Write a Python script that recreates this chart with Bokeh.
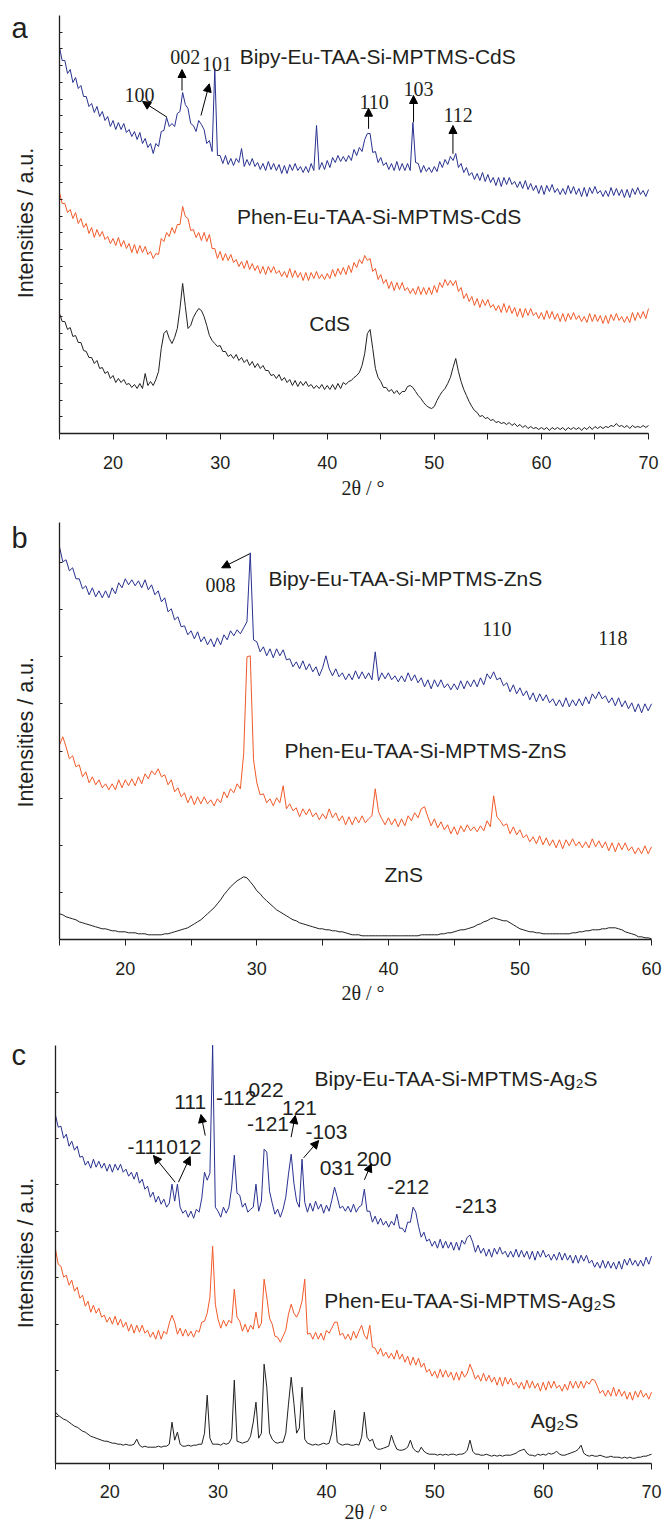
import math
import numpy as np
from bokeh.plotting import figure
from bokeh.layouts import column
from bokeh.models import Label, Arrow, NormalHead, FixedTicker, Range1d, CustomJSTickFormatter
from bokeh.embed import file_html
from bokeh.resources import INLINE

BLUE = "#28318f"
ORANGE = "#f15a29"
BLACK = "#231f20"
TEXT = "#231f20"
SANS = "Liberation Sans"
SERIF = "Liberation Serif"

# ---------------- 2-theta sampling (degrees) ----------------
two_theta_ac = np.round(np.arange(15.0, 70.001, 0.25), 2)   # panels a and c
two_theta_b = np.round(np.arange(15.0, 60.001, 0.25), 2)    # panel b

# ---------------- panel a : CdS (intensities, a.u.) ----------------
bipy_cds = [
    386, 373, 373, 360, 364, 351, 356, 345, 348, 337, 337, 327, 330, 321, 327, 317,
    322, 313, 317, 307, 313, 304, 311, 304, 310, 301, 304, 297, 302, 294, 301, 290,
    295, 286, 290, 280, 290, 287, 302, 303, 316, 307, 310, 307, 320, 322, 341, 329,
    325, 310, 308, 302, 313, 309, 304, 290, 293, 282, 365, 278, 278, 270, 278, 269,
    275, 268, 275, 271, 285, 267, 274, 268, 275, 267, 271, 264, 270, 263, 272, 264,
    270, 263, 269, 260, 268, 260, 269, 263, 270, 263, 267, 261, 267, 261, 270, 263,
    308, 264, 271, 264, 273, 266, 276, 271, 278, 272, 277, 272, 278, 273, 284, 278,
    286, 282, 294, 300, 300, 281, 282, 271, 276, 268, 271, 264, 270, 263, 272, 263,
    270, 263, 270, 263, 311, 271, 270, 261, 268, 262, 266, 261, 267, 262, 272, 266,
    274, 269, 277, 273, 280, 266, 270, 261, 266, 258, 261, 254, 260, 253, 261, 252,
    259, 251, 256, 248, 256, 247, 256, 249, 256, 249, 252, 246, 252, 245, 253, 244,
    250, 243, 248, 240, 248, 239, 248, 242, 249, 241, 245, 239, 245, 239, 248, 240,
    247, 239, 245, 237, 246, 237, 246, 240, 247, 240, 243, 237, 243, 237, 246, 238,
    245, 238, 244, 236, 244, 236, 245, 239, 246, 239, 243, 237, 244,
]
phen_cds = [
    241, 230, 230, 221, 224, 215, 221, 210, 215, 206, 210, 200, 206, 196, 204, 197,
    202, 194, 197, 190, 195, 188, 196, 187, 193, 185, 190, 181, 189, 180, 188, 181,
    187, 179, 182, 175, 180, 179, 195, 192, 201, 197, 206, 200, 209, 209, 227, 217,
    215, 203, 204, 196, 201, 193, 201, 192, 199, 185, 185, 175, 182, 173, 180, 173,
    179, 171, 174, 167, 172, 165, 173, 164, 170, 163, 168, 160, 167, 159, 167, 161,
    167, 160, 163, 157, 162, 156, 165, 156, 163, 156, 161, 153, 161, 153, 161, 155,
    162, 155, 159, 154, 160, 155, 164, 157, 165, 159, 166, 159, 168, 161, 171, 166,
    174, 170, 178, 173, 175, 162, 165, 154, 159, 150, 154, 145, 152, 143, 151, 144,
    151, 143, 146, 140, 145, 139, 147, 139, 146, 139, 146, 139, 148, 141, 151, 146,
    154, 148, 153, 148, 153, 142, 146, 135, 140, 132, 137, 128, 135, 126, 134, 128,
    134, 126, 129, 123, 128, 121, 130, 121, 128, 120, 126, 117, 125, 116, 125, 118,
    125, 118, 121, 115, 121, 114, 123, 115, 122, 114, 120, 112, 120, 112, 120, 114,
    121, 114, 118, 112, 117, 111, 120, 112, 119, 112, 118, 110, 118, 110, 119, 113,
    120, 113, 117, 111, 117, 111, 121, 113, 121, 115, 122, 115, 125,
]
cds = [
    120, 112, 112, 104, 106, 97, 98, 91, 91, 83, 82, 76, 76, 70, 73, 65,
    66, 60, 62, 55, 58, 51, 55, 51, 54, 49, 50, 46, 49, 45, 50, 45,
    60, 48, 52, 48, 54, 62, 85, 100, 103, 95, 90, 96, 105, 125, 150, 127,
    105, 108, 116, 121, 125, 123, 117, 108, 98, 93, 90, 87, 88, 82, 82, 77,
    79, 75, 79, 73, 76, 71, 74, 68, 72, 66, 70, 65, 68, 63, 63, 58,
    59, 55, 59, 53, 56, 51, 54, 48, 53, 47, 52, 48, 52, 47, 49, 45,
    48, 45, 49, 44, 48, 44, 49, 44, 50, 45, 51, 49, 52, 53, 56, 58,
    61, 68, 80, 100, 104, 85, 65, 56, 52, 46, 46, 42, 44, 40, 43, 39,
    42, 42, 47, 48, 46, 42, 38, 35, 31, 28, 26, 25, 27, 33, 38, 42,
    45, 50, 56, 66, 75, 62, 52, 44, 38, 32, 27, 23, 21, 17, 18, 15,
    16, 13, 14, 11, 12, 10, 11, 9, 11, 8, 10, 7, 9, 6, 8, 5,
    7, 5, 6, 4, 6, 4, 6, 3, 6, 4, 6, 4, 6, 3, 6, 4,
    6, 4, 6, 3, 6, 4, 7, 4, 7, 5, 7, 5, 7, 6, 8, 7,
    10, 7, 8, 6, 8, 5, 8, 6, 7, 6, 8, 6, 8,
]

# ---------------- panel b : ZnS ----------------
bipy_zns = [
    393, 378, 380, 369, 372, 361, 361, 351, 354, 345, 352, 343, 349, 342, 349, 342,
    352, 346, 357, 352, 361, 355, 360, 354, 359, 352, 360, 350, 355, 345, 349, 338,
    342, 328, 331, 320, 323, 313, 314, 305, 309, 301, 308, 298, 303, 295, 301, 293,
    302, 295, 305, 300, 309, 304, 310, 306, 312, 318, 387, 300, 298, 288, 293, 284,
    291, 282, 291, 284, 290, 280, 281, 273, 278, 271, 279, 270, 276, 268, 273, 264,
    272, 284, 271, 264, 271, 263, 267, 260, 266, 260, 269, 261, 268, 261, 267, 260,
    288, 259, 267, 261, 267, 260, 264, 258, 264, 258, 267, 259, 265, 257, 262, 253,
    260, 251, 260, 253, 260, 252, 256, 250, 256, 250, 259, 251, 259, 253, 260, 253,
    262, 255, 266, 261, 268, 260, 262, 254, 257, 248, 255, 246, 252, 244, 249, 240,
    247, 238, 246, 239, 245, 237, 241, 234, 240, 233, 242, 233, 240, 234, 241, 234,
    243, 236, 246, 241, 248, 241, 244, 237, 242, 234, 242, 233, 239, 231, 237, 228,
    236, 227, 236, 229, 236,
]
phen_zns = [
    195, 203, 193, 181, 184, 173, 175, 163, 168, 157, 163, 155, 160, 152, 156, 150,
    156, 150, 160, 152, 160, 154, 161, 154, 163, 156, 166, 161, 169, 165, 171, 163,
    165, 155, 160, 148, 152, 143, 147, 137, 144, 135, 143, 136, 143, 136, 140, 134,
    141, 137, 148, 142, 151, 147, 156, 151, 186, 283, 284, 180, 157, 145, 146, 137,
    141, 134, 142, 137, 154, 131, 136, 129, 132, 123, 131, 125, 131, 123, 127, 120,
    126, 121, 131, 122, 127, 119, 124, 115, 123, 115, 123, 117, 124, 117, 121, 124,
    151, 128, 121, 115, 122, 115, 121, 113, 121, 114, 124, 119, 127, 122, 131, 133,
    123, 114, 121, 112, 118, 110, 115, 106, 113, 105, 114, 108, 115, 109, 113, 108,
    114, 109, 119, 113, 144, 123, 119, 114, 116, 106, 113, 105, 110, 102, 105, 98,
    103, 96, 104, 95, 102, 94, 100, 92, 100, 91, 100, 94, 101, 94, 98, 92,
    98, 92, 101, 93, 99, 92, 98, 89, 97, 88, 97, 90, 97, 89, 93, 86,
    92, 86, 94, 86, 93,
]
zns = [
    26, 25, 23, 22, 21, 20, 18, 17, 16, 15, 14, 13, 12, 11, 11, 10,
    9, 9, 8, 8, 8, 7, 7, 7, 6, 6, 6, 5, 5, 5, 5, 5,
    6, 6, 7, 8, 9, 10, 11, 12, 14, 16, 18, 20, 23, 26, 29, 32,
    36, 40, 45, 49, 53, 56, 59, 61, 63, 62, 58, 54, 49, 46, 42, 39,
    36, 33, 30, 28, 26, 24, 22, 20, 19, 17, 16, 15, 14, 13, 12, 11,
    11, 10, 10, 9, 9, 8, 8, 7, 6, 5, 5, 5, 4, 4, 4, 4,
    4, 4, 4, 4, 4, 4, 4, 4, 4, 4, 4, 4, 4, 4, 5, 5,
    5, 5, 5, 5, 6, 6, 7, 7, 8, 9, 10, 10, 11, 12, 13, 15,
    16, 18, 19, 21, 22, 21, 20, 19, 19, 17, 15, 13, 11, 10, 9, 8,
    8, 7, 7, 6, 6, 6, 6, 6, 6, 6, 6, 6, 7, 7, 8, 8,
    9, 9, 10, 10, 10, 11, 11, 12, 12, 12, 11, 10, 8, 7, 6, 5,
    3, 3, 2, 2, 1,
]

# ---------------- panel c : Ag2S ----------------
bipy_ag2s = [
    348, 336, 337, 325, 329, 317, 322, 313, 317, 306, 307, 298, 302, 295, 304, 296,
    302, 295, 300, 292, 299, 291, 299, 293, 299, 291, 294, 287, 291, 284, 291, 280,
    284, 274, 277, 266, 271, 261, 267, 259, 264, 256, 260, 279, 262, 279, 256, 250,
    253, 246, 252, 245, 254, 251, 265, 291, 283, 290, 418, 256, 252, 246, 256, 250,
    256, 275, 308, 270, 268, 256, 260, 251, 254, 256, 279, 252, 262, 314, 311, 272,
    260, 249, 254, 246, 254, 266, 289, 309, 280, 262, 256, 304, 261, 251, 260, 252,
    262, 254, 259, 250, 258, 252, 263, 276, 266, 255, 257, 252, 257, 251, 259, 251,
    256, 258, 274, 252, 252, 241, 247, 239, 245, 238, 242, 236, 242, 238, 249, 235,
    235, 231, 241, 241, 256, 251, 237, 226, 231, 222, 224, 217, 222, 215, 224, 215,
    222, 215, 221, 213, 221, 213, 223, 219, 226, 228, 221, 211, 218, 210, 215, 207,
    214, 206, 215, 209, 216, 209, 212, 206, 212, 206, 214, 206, 213, 206, 212, 204,
    212, 203, 212, 206, 213, 206, 209, 203, 209, 203, 211, 203, 210, 203, 208, 200,
    208, 200, 208, 202, 208, 200, 203, 196, 201, 195, 203, 195, 202, 195, 201, 194,
    202, 194, 204, 198, 205, 198, 203, 197, 203, 197, 206, 199, 207,
]
phen_ag2s = [
    214, 199, 197, 186, 188, 178, 183, 172, 176, 165, 168, 157, 162, 151, 158, 150,
    155, 146, 148, 141, 146, 139, 147, 138, 144, 136, 141, 132, 139, 130, 138, 131,
    138, 130, 133, 126, 131, 124, 133, 124, 132, 129, 140, 148, 141, 129, 135, 127,
    134, 127, 132, 126, 133, 131, 141, 142, 150, 166, 217, 159, 144, 135, 143, 137,
    143, 140, 174, 146, 142, 132, 139, 131, 138, 134, 151, 135, 140, 184, 166, 145,
    139, 127, 126, 121, 127, 133, 149, 159, 150, 146, 152, 162, 184, 129, 130, 124,
    131, 124, 130, 123, 133, 130, 135, 141, 141, 128, 130, 124, 129, 123, 132, 125,
    132, 138, 128, 124, 138, 116, 115, 109, 115, 107, 111, 105, 110, 104, 113, 104,
    109, 101, 107, 98, 106, 98, 105, 96, 100, 91, 94, 87, 92, 85, 94, 86,
    93, 86, 91, 83, 91, 83, 92, 86, 90, 99, 92, 84, 88, 82, 90, 82,
    88, 81, 86, 78, 86, 77, 86, 79, 85, 78, 81, 75, 81, 74, 83, 75,
    82, 75, 80, 72, 81, 73, 82, 75, 82, 75, 78, 72, 79, 73, 82, 75,
    82, 75, 82, 75, 82, 79, 84, 83, 77, 70, 73, 67, 73, 67, 76, 67,
    74, 67, 72, 64, 71, 63, 72, 66, 73, 66, 70, 64, 71,
]
ag2s = [
    51, 48, 46, 44, 43, 41, 39, 37, 36, 34, 32, 31, 29, 27, 26, 25,
    24, 23, 22, 22, 21, 20, 20, 19, 19, 18, 19, 18, 18, 19, 24, 18,
    16, 17, 16, 16, 16, 16, 17, 16, 17, 17, 19, 41, 23, 31, 19, 17,
    17, 18, 17, 18, 18, 19, 19, 30, 68, 25, 19, 19, 19, 18, 20, 19,
    20, 25, 83, 22, 21, 20, 21, 22, 27, 41, 61, 25, 30, 99, 76, 30,
    24, 21, 20, 21, 21, 30, 59, 86, 60, 30, 35, 76, 24, 20, 19, 18,
    19, 18, 19, 20, 19, 20, 30, 53, 21, 19, 18, 19, 19, 18, 18, 19,
    18, 26, 51, 26, 22, 24, 16, 14, 14, 15, 16, 17, 28, 20, 14, 13,
    13, 14, 16, 23, 15, 12, 11, 16, 12, 10, 9, 9, 9, 8, 9, 8,
    9, 8, 9, 9, 8, 9, 9, 10, 13, 23, 12, 9, 9, 8, 8, 9,
    8, 7, 8, 7, 8, 7, 8, 8, 8, 9, 10, 12, 13, 14, 10, 8,
    8, 7, 9, 8, 9, 8, 10, 9, 10, 12, 9, 8, 8, 9, 10, 11,
    12, 14, 18, 10, 8, 7, 8, 7, 7, 8, 7, 6, 6, 7, 6, 6,
    6, 5, 6, 5, 6, 5, 5, 6, 6, 7, 7, 8, 9,
]

# tick labels
x_ticks_ac = [20, 30, 40, 50, 60, 70]
x_minor_ac = [15, 25, 35, 45, 55, 65]
x_ticks_b = [20, 30, 40, 50, 60]
x_minor_b = [15, 25, 35, 45, 55]

for name, xs, ys in [("bipy_cds", two_theta_ac, bipy_cds), ("phen_cds", two_theta_ac, phen_cds),
                     ("cds", two_theta_ac, cds), ("bipy_zns", two_theta_b, bipy_zns),
                     ("phen_zns", two_theta_b, phen_zns), ("zns", two_theta_b, zns),
                     ("bipy_ag2s", two_theta_ac, bipy_ag2s), ("phen_ag2s", two_theta_ac, phen_ag2s),
                     ("ag2s", two_theta_ac, ag2s)]:
    if len(xs) != len(ys):
        raise ValueError(f"{name}: {len(xs)} vs {len(ys)}")

PAGE_LEFT, PAGE_RIGHT = 0, 664


def make_fig(fig_top, fig_bottom, axis_y, axis_top_y, ax_left_px, ax_right_px, x0, x1,
             xmaj, xmin, ystep, nyt):
    """Figure whose frame fills the whole canvas; axes pinned with fixed_location."""
    sx = (ax_right_px - ax_left_px) / (x1 - x0)
    xr = Range1d(x0 - (ax_left_px - PAGE_LEFT) / sx, x1 + (PAGE_RIGHT - ax_right_px) / sx)
    yr = Range1d(axis_y - fig_bottom, axis_y - fig_top)
    p = figure(width=PAGE_RIGHT - PAGE_LEFT, height=fig_bottom - fig_top,
               x_range=xr, y_range=yr, output_backend="svg", toolbar_location=None,
               min_border=0)
    p.xgrid.visible = False
    p.ygrid.visible = False
    p.outline_line_color = None
    p.background_fill_color = "white"
    p.border_fill_color = "white"
    xa = p.xaxis[0]
    xa.fixed_location = 0
    xa.bounds = (x0, x1)
    xa.ticker = FixedTicker(ticks=xmaj, minor_ticks=xmin)
    xa.major_tick_out = 6
    xa.major_tick_in = 0
    xa.minor_tick_out = 6
    xa.minor_tick_in = 0
    xa.axis_line_color = "#231f20"
    xa.axis_line_width = 1.3
    xa.major_tick_line_color = "#231f20"
    xa.minor_tick_line_color = "#231f20"
    xa.major_label_text_font = SANS
    xa.major_label_text_font_size = "18px"
    xa.major_label_text_color = TEXT
    xa.major_label_standoff = 16
    ya = p.yaxis[0]
    ya.fixed_location = x0
    ya.bounds = (0, axis_y - axis_top_y)
    ya.ticker = FixedTicker(ticks=[ystep * k for k in range(1, nyt + 1)], minor_ticks=[])
    ya.formatter = CustomJSTickFormatter(code="return '';")
    ya.major_tick_in = 3
    ya.major_tick_out = 0
    ya.minor_tick_in = 0
    ya.minor_tick_out = 0
    ya.major_label_standoff = 0
    ya.axis_line_color = "#231f20"
    ya.axis_line_width = 1.3
    ya.major_tick_line_color = "#231f20"
    return p


def label(p, x, y, text, size=21, font=SANS, align="left"):
    # baseline correction (Bokeh's alphabetic baseline sits slightly low)
    lift = 0.26 * size
    p.add_layout(Label(x=x, y=y + lift, text=text, text_font=font, text_font_size=f"{size}px",
                       text_color=TEXT, text_align=align, text_baseline="alphabetic"))


def vlabel(p, x, y, text, size=21.5):
    p.add_layout(Label(x=x, y=y, text=text, text_font=SANS, text_font_size=f"{size}px",
                       text_color=TEXT, text_align="center", text_baseline="alphabetic",
                       angle=math.pi / 2))


def arrow(p, x0, y0, x1, y1):
    p.add_layout(Arrow(end=NormalHead(size=8, fill_color="black", line_color="black", line_width=1),
                       x_start=x0, y_start=y0, x_end=x1, y_end=y1,
                       line_color="black", line_width=1))


# ---------------- panel a ----------------
pa = make_fig(0, 505, 433, 15, 59, 648, 15, 70, x_ticks_ac, x_minor_ac, 16.72, 24)
pa.line(two_theta_ac, bipy_cds, line_color=BLUE, line_width=1)
pa.line(two_theta_ac, phen_cds, line_color=ORANGE, line_width=1)
pa.line(two_theta_ac, cds, line_color=BLACK, line_width=1)
label(pa, 10.52, 398, "a", size=29)
vlabel(pa, 11.87, 210.5, "Intensities / a.u.")
label(pa, 43.34, -60, "2θ / °", size=20, font=SERIF, align="center")
label(pa, 31.82, 371.3, "Bipy-Eu-TAA-Si-MPTMS-CdS")
label(pa, 31.57, 211.3, "Phen-Eu-TAA-Si-MPTMS-CdS")
label(pa, 38.32, 105, "CdS")
for t, x, y in [("100", 22.46, 333), ("002", 26.75, 371.3), ("101", 29.71, 364),
                ("110", 44.37, 326.3), ("103", 48.53, 339.7), ("112", 52.22, 313)]:
    label(pa, x, y, t, size=20, font=SERIF, align="center")
arrow(pa, 25.04, 316.3, 22.76, 332)
arrow(pa, 26.44, 343, 26.44, 364)
arrow(pa, 28.21, 318, 28.99, 349.7)
arrow(pa, 43.86, 304.7, 43.86, 325.3)
arrow(pa, 48.06, 311.3, 48.06, 338)
arrow(pa, 51.74, 279.7, 51.74, 308)

# ---------------- panel b ----------------
pb = make_fig(505, 1030, 939.3, 522, 59, 651, 15, 60, x_ticks_b, x_minor_b, 47.2, 8)
pb.line(two_theta_b, bipy_zns, line_color=BLUE, line_width=1)
pb.line(two_theta_b, phen_zns, line_color=ORANGE, line_width=1)
pb.line(two_theta_b, zns, line_color=BLACK, line_width=1)
label(pb, 11.35, 394.3, "b", size=29)
vlabel(pb, 12.45, 207.5, "Intensities / a.u.")
label(pb, 38.07, -58.6, "2θ / °", size=20, font=SERIF, align="center")
label(pb, 30.88, 356, "Bipy-Eu-TAA-Si-MPTMS-ZnS")
label(pb, 32.1, 184.3, "Phen-Eu-TAA-Si-MPTMS-ZnS")
label(pb, 39.7, 60.3, "ZnS")
for t, x, y in [("008", 27.23, 349.3), ("110", 48.25, 306), ("118", 57.07, 297)]:
    label(pb, x, y, t, size=20, font=SERIF, align="center")
arrow(pb, 29.45, 386, 27.33, 372)

# ---------------- panel c ----------------
pc = make_fig(1030, 1525, 1462.7, 1045, 55, 651, 15, 70, x_ticks_ac, x_minor_ac, 46.4, 8)
pc.line(two_theta_ac, bipy_ag2s, line_color=BLUE, line_width=1)
pc.line(two_theta_ac, phen_ag2s, line_color=ORANGE, line_width=1)
pc.line(two_theta_ac, ag2s, line_color=BLACK, line_width=1)
label(pc, 10.94, 401, "c", size=29)
vlabel(pc, 12.28, 210.2, "Intensities / a.u.")
label(pc, 43.65, -53.5, "2θ / °", size=20, font=SERIF, align="center")
label(pc, 38.9, 379.4, "Bipy-Eu-TAA-Si-MPTMS-Ag₂S")
label(pc, 39.81, 157.7, "Phen-Eu-TAA-Si-MPTMS-Ag₂S")
label(pc, 58.85, 37.7, "Ag₂S")
for t, x, y in [("111", 25.95, 355.4), ("-112", 29.81, 359.4), ("022", 32.82, 367.7),
                ("121", 35.9, 349.4), ("-121", 32.67, 333.4), ("-103", 38.06, 326.0),
                ("-111012", 21.64, 311.0), ("031", 39.38, 289.4), ("200", 42.77, 298.7),
                ("-212", 45.61, 271.0), ("-213", 51.86, 252.0)]:
    label(pc, x, y, t)
arrow(pc, 26.04, 281, 24.04, 307.7)
arrow(pc, 26.35, 281, 27.43, 306.7)
arrow(pc, 28.82, 327.7, 28.42, 348.7)
arrow(pc, 36.74, 326, 37.13, 347.7)
arrow(pc, 37.9, 305.4, 39.29, 322.7)
arrow(pc, 43.51, 283.4, 44.13, 299.4)

layout = column(pa, pb, pc, spacing=0)
open("out.html", "w").write(file_html(layout, INLINE))
